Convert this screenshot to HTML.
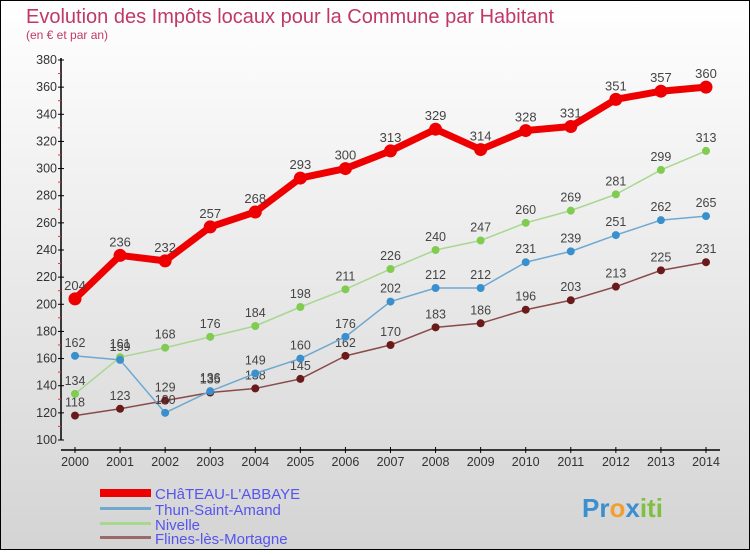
<!DOCTYPE html>
<html><head><meta charset="utf-8"><style>
html,body{margin:0;padding:0}
body{width:750px;height:550px;overflow:hidden;font-family:"Liberation Sans",sans-serif}
svg text{font-family:"Liberation Sans",sans-serif}
</style></head><body>
<svg id="chart" width="750" height="550" xmlns="http://www.w3.org/2000/svg">
<defs><linearGradient id="bg" x1="0" y1="0" x2="0" y2="1"><stop offset="0" stop-color="#ffffff"/><stop offset="1" stop-color="#d4d4d4"/></linearGradient></defs>
<rect x="0.5" y="0.5" width="749" height="549" fill="url(#bg)" stroke="#000"/>
<text x="26" y="23" font-size="20" fill="#c0386a">Evolution des Impôts locaux pour la Commune par Habitant</text>
<text x="26" y="39" font-size="12" fill="#c0386a">(en € et par an)</text>
<g id="axes"></g>
<g id="series"></g>
<g>
<rect x="100" y="489" width="51" height="8" fill="#ee0000"/>
<text x="155" y="499" font-size="15" fill="#5555ee">CHâTEAU-L'ABBAYE</text>
<rect x="100" y="507" width="51" height="3" fill="#6fa8d0"/>
<text x="155" y="515" font-size="15" fill="#5555ee">Thun-Saint-Amand</text>
<rect x="100" y="522" width="51" height="3" fill="#a8d890"/>
<text x="155" y="530" font-size="15" fill="#5555ee">Nivelle</text>
<rect x="100" y="536" width="51" height="3" fill="#9a6a6a"/>
<text x="155" y="544" font-size="15" fill="#5555ee">Flines-lès-Mortagne</text>
</g>
<text x="582" y="517" font-size="26" font-weight="bold"><tspan fill="#3a8fd0">Pr</tspan><tspan fill="#f0a030">o</tspan><tspan fill="#3a8fd0">x</tspan><tspan fill="#80c040">iti</tspan></text>
</svg>
<script>
const years=["2000","2001","2002","2003","2004","2005","2006","2007","2008","2009","2010","2011","2012","2013","2014"];
const yTicks=[100,120,140,160,180,200,220,240,260,280,300,320,340,360,380];
const chateau=[204,236,232,257,268,293,300,313,329,314,328,331,351,357,360];
const thun=[162,159,120,136,149,160,176,202,212,212,231,239,251,262,265];
const nivelle=[134,161,168,176,184,198,211,226,240,247,260,269,281,299,313];
const flines=[118,123,129,135,138,145,162,170,183,186,196,203,213,225,231];
const NS="http://www.w3.org/2000/svg";
const xs=i=>75+i*(706-75)/14;
const ys=v=>440-(v-100)*(380/280);
function mk(tag,attrs,parent){const e=document.createElementNS(NS,tag);for(const k in attrs)e.setAttribute(k,attrs[k]);parent.appendChild(e);return e;}
const ax=document.getElementById('axes');
let l=mk('line',{x1:61,y1:58,x2:61,y2:440,stroke:'#000','stroke-width':1.5},ax);


l=mk('line',{x1:61,y1:450,x2:720,y2:450,stroke:'#000','stroke-width':1.5},ax);


yTicks.forEach((v,i)=>{
  const y=ys(v);
  mk('line',{x1:58,y1:y,x2:64,y2:y,stroke:'#000'},ax);
  if(i<yTicks.length-1) mk('line',{x1:58,y1:y-13.6,x2:61,y2:y-13.6,stroke:'#f03030'},ax);
  const t=mk('text',{x:57,y:y+4,'font-size':12.5,fill:'#333','text-anchor':'end'},ax);
  
  
  t.textContent=v;
});
years.forEach((yr,i)=>{
  const x=xs(i);
  mk('line',{x1:x,y1:447,x2:x,y2:453,stroke:'#000'},ax);
  const t=mk('text',{x:x,y:466,'font-size':12.5,fill:'#333','text-anchor':'middle'},ax);
  
  
  t.textContent=yr;
});
const sg=document.getElementById('series');
function draw(data,name,color,dot,w,r,fs){
  const g=mk('g',{},sg);
  
  
  const p=mk('polyline',{points:data.map((v,i)=>xs(i)+','+ys(v)).join(' '),fill:'none',stroke:color,'stroke-width':w,'stroke-linejoin':'round'},g);
  
  
  data.forEach((v,i)=>{
    const c=mk('circle',{cx:xs(i),cy:ys(v),r:r,fill:dot},g);
    
    
    const t=mk('text',{x:xs(i),y:ys(v)-9,'font-size':fs,fill:'#444','text-anchor':'middle'},g);
    
    
    t.textContent=v;
  });
}
draw(flines,'flines','#8a4a4a','#6a1a1a',1.5,4,12.5);
draw(nivelle,'nivelle','#a8d890','#80cc50',1.5,4,12.5);
draw(thun,'thun','#6fa8d0','#3a90cc',1.5,4,12.5);
draw(chateau,'chateau','#ee0000','#ee0000',7,6.5,13);
</script>
</body></html>
